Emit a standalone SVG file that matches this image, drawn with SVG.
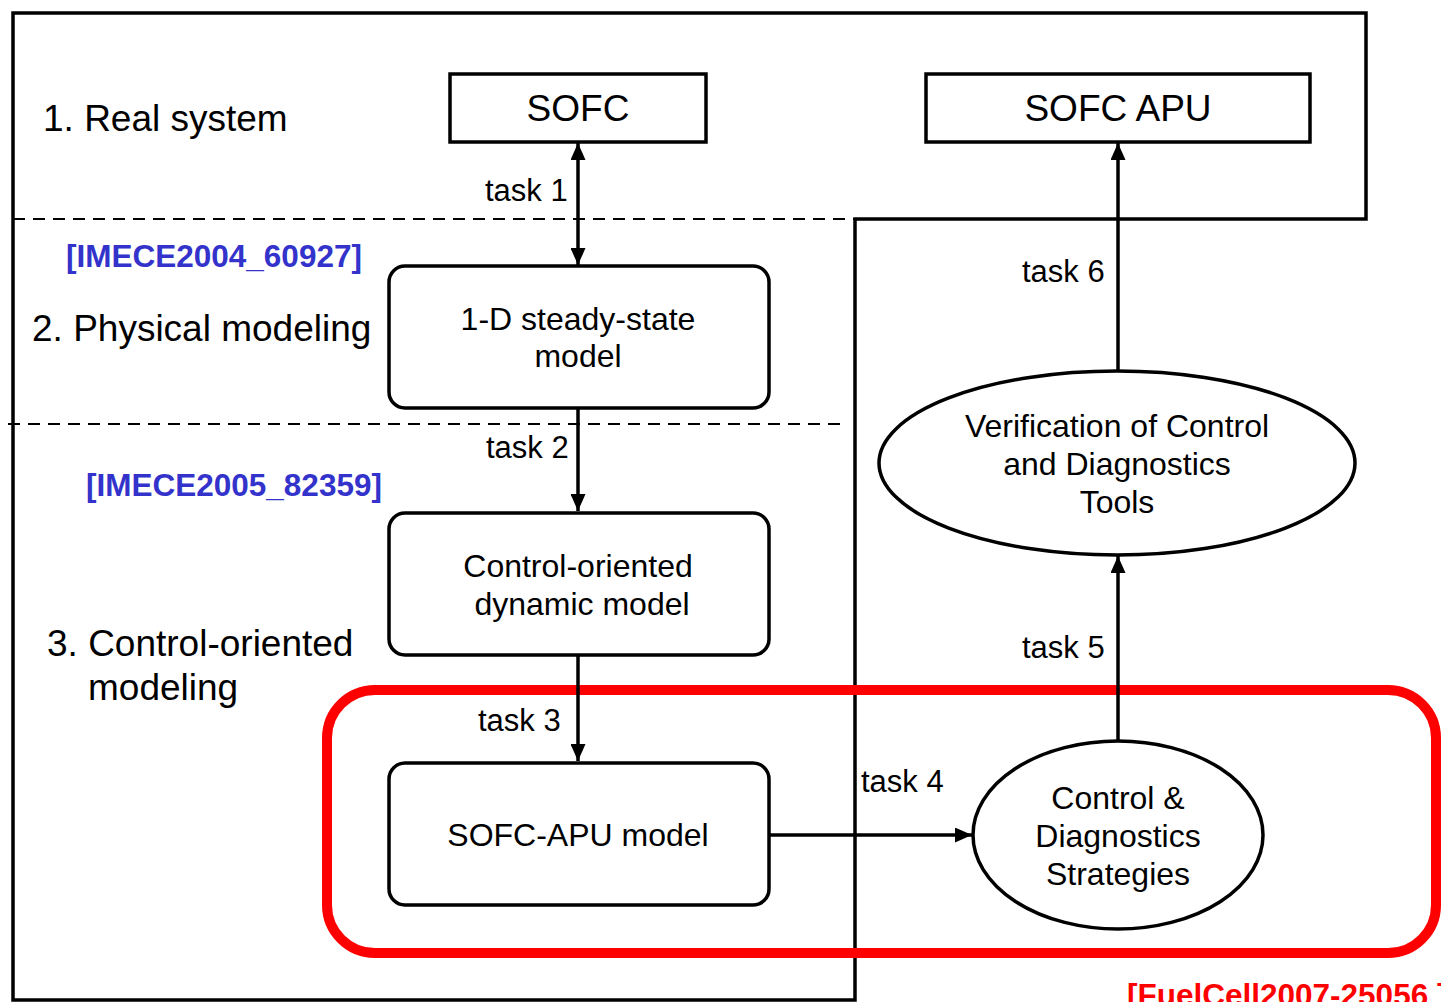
<svg xmlns="http://www.w3.org/2000/svg" width="1441" height="1002" viewBox="0 0 1441 1002">
<defs>
<style>
text{font-family:"Liberation Sans",Arial,sans-serif;fill:#000}
.lbl{font-size:37px}
.node{font-size:32px;text-anchor:middle}
.task{font-size:31px}
.ref{font-size:31.5px;font-weight:bold;fill:#3333cc}
.box{fill:#fff;stroke:#000;stroke-width:3.5}
.line{stroke:#000;stroke-width:3.5;fill:none}
.dash{stroke:#000;stroke-width:2;stroke-dasharray:12 8;fill:none}
</style>
<marker id="ah" viewBox="0 0 17 15" refX="17" refY="7.5" markerWidth="17" markerHeight="15" markerUnits="userSpaceOnUse" orient="auto-start-reverse">
<path d="M0,0 L17,7.5 L0,15 Z" fill="#000"/>
</marker>
</defs>
<rect width="1441" height="1002" fill="#fff"/>
<g id="frame">
<path class="line" d="M13,1000 V13 H1366 V219 H855 V1000 Z"/>
<path class="dash" d="M13,219 H855"/>
<path class="dash" d="M8,424 H845"/>
<rect x="327" y="690" width="1109" height="263" rx="48" fill="none" stroke="#ff0000" stroke-width="10"/>
</g>
<g id="labels">
<text class="lbl" x="43" y="131">1. Real system</text>
<text class="lbl" x="32" y="341">2. Physical modeling</text>
<text class="lbl" x="47" y="656">3. Control-oriented</text>
<text class="lbl" x="88" y="700">modeling</text>
<text class="ref" x="66" y="267">[IMECE2004_60927]</text>
<text class="ref" x="86" y="496">[IMECE2005_82359]</text>
<text class="ref" x="1127" y="1006" style="fill:#ff0000">[FuelCell2007-25056 ]</text>
</g>
<g id="connectors">
<line class="line" x1="578" y1="143" x2="578" y2="265" marker-start="url(#ah)" marker-end="url(#ah)"/>
<line class="line" x1="578" y1="408" x2="578" y2="511" marker-end="url(#ah)"/>
<line class="line" x1="578" y1="655" x2="578" y2="761" marker-end="url(#ah)"/>
<line class="line" x1="769" y1="835" x2="972" y2="835" marker-end="url(#ah)"/>
<line class="line" x1="1118" y1="741" x2="1118" y2="556" marker-end="url(#ah)"/>
<line class="line" x1="1118" y1="370" x2="1118" y2="143" marker-end="url(#ah)"/>
<text class="task" x="485" y="201">task 1</text>
<text class="task" x="486" y="458">task 2</text>
<text class="task" x="478" y="731">task 3</text>
<text class="task" x="861" y="792">task 4</text>
<text class="task" x="1022" y="658">task 5</text>
<text class="task" x="1022" y="282">task 6</text>
</g>
<g id="sofc">
<rect class="box" x="450" y="74" width="256" height="68"/>
<text class="node" x="578" y="121" style="font-size:37px">SOFC</text>
</g>
<g id="sofc-apu">
<rect class="box" x="926" y="74" width="384" height="68"/>
<text class="node" x="1118" y="121" style="font-size:37px">SOFC APU</text>
</g>
<g id="steady-state">
<rect class="box" x="389" y="266" width="380" height="142" rx="16"/>
<text class="node" x="578" y="330">1-D steady-state</text>
<text class="node" x="578" y="367">model</text>
</g>
<g id="dynamic">
<rect class="box" x="389" y="513" width="380" height="142" rx="16"/>
<text class="node" x="578" y="577">Control-oriented</text>
<text class="node" x="582" y="615">dynamic model</text>
</g>
<g id="apu-model">
<rect class="box" x="389" y="763" width="380" height="142" rx="16"/>
<text class="node" x="578" y="846">SOFC-APU model</text>
</g>
<g id="verification">
<ellipse class="box" cx="1117" cy="463" rx="238" ry="92"/>
<text class="node" x="1117" y="437">Verification of Control</text>
<text class="node" x="1117" y="475">and Diagnostics</text>
<text class="node" x="1117" y="513">Tools</text>
</g>
<g id="strategies">
<ellipse class="box" cx="1118" cy="835" rx="145" ry="94"/>
<text class="node" x="1118" y="809">Control &amp;</text>
<text class="node" x="1118" y="847">Diagnostics</text>
<text class="node" x="1118" y="885">Strategies</text>
</g>
</svg>
